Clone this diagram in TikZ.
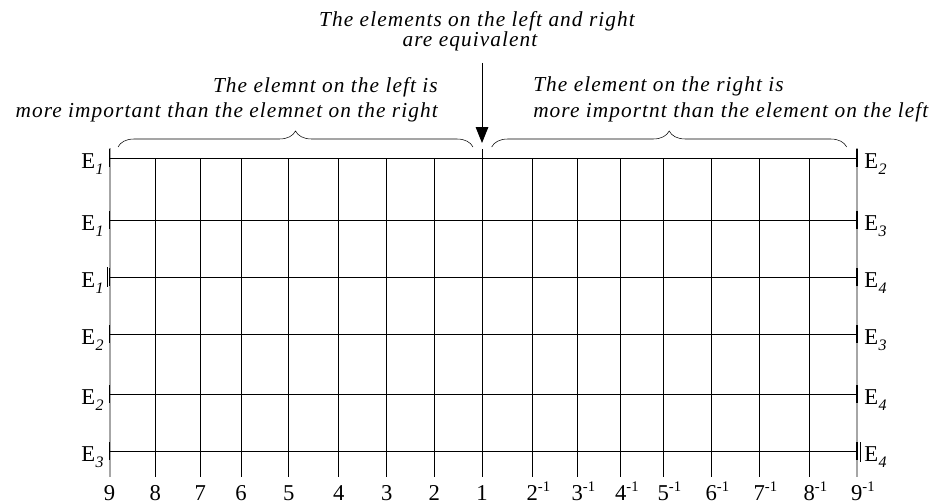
\documentclass[tikz,border=0pt]{standalone}
\usepackage{fontspec}
\setmainfont{Liberation Serif}
\newfontfamily\notefont[LetterSpace=5]{Liberation Serif}
\usetikzlibrary{arrows.meta,calc,decorations.pathreplacing}

\newcommand{\subidx}[1]{\kern0.4pt\raisebox{-5pt}{\fontsize{12}{12}\selectfont\itshape #1}}
\newcommand{\invnum}[1]{#1\rlap{\raisebox{6.5pt}{\fontsize{11}{11}\selectfont -1}}}

\begin{document}
\begin{tikzpicture}[x=0.75pt, y=-0.75pt, >=Stealth,
  every node/.style={inner sep=0pt},
  note/.style={font=\notefont\fontsize{16}{16}\selectfont\itshape},
  elab/.style={font=\fontsize{17}{17}\selectfont},
  grid/.style={line width=0.7pt},
  border/.style={line width=1.5pt, gray!70}]
\useasboundingbox (0,0) rectangle (934,503);

% frame of the scale
\draw[border] (109.5,148) -- (109.5,477);
\draw[border] (856.7,148) -- (856.7,477);
\foreach \y in {158.3,220,277,334.3,394,451.3} {
  \draw[grid] (109.5,\y) -- (856.7,\y);
  \draw[line width=1.2pt] (109.5,\y-9) -- (109.5,\y+9);
  \draw[line width=1.2pt] (856.7,\y-9) -- (856.7,\y+9);
}
\foreach \x in {155.3,200.3,241,288.7,338.7,386.7,434.3,532.3,577.3,620.7,663.3,711.3,759.3,809.3}
  \draw[grid] (\x,158.3) -- (\x,477);
\draw[grid] (482,149) -- (482,477);
\draw[grid] (107.7,267) -- (107.7,287);
\draw[grid] (860,442) -- (860,462);

% element labels
\foreach \y/\s [count=\i] in {158.3/1,220/1,277/1,334.3/2,394/2,451.3/3}
  \node[elab, anchor=base east] (left\i) at (104,\y+10) {E\subidx{\s}};
\foreach \y/\s [count=\i] in {158.3/2,220/3,277/4,334.3/3,394/4,451.3/4}
  \node[elab, anchor=base west] (right\i) at (864,\y+10) {E\subidx{\s}};

% scale values
\foreach \x/\n [count=\i] in {109.5/9,155.3/8,200.3/7,241/6,288.7/5,338.7/4,386.7/3,434.3/2,482/1}
  \node[elab, anchor=base] (num\i) at (\x,500) {\n};
\foreach \x/\n [count=\i] in {532.3/2,577.3/3,620.7/4,663.3/5,711.3/6,759.3/7,809.3/8,856.7/9}
  \node[elab, anchor=base] (inv\i) at (\x,500) {\invnum{\n}};

% braces and notes
\draw[decorate, decoration={brace, amplitude=12pt}] (118,147) -- (473,147);
\draw[decorate, decoration={brace, amplitude=12pt}] (491.7,147) -- (846.7,147);
\node[note, anchor=base east] (leftA) at (438,92) {The elemnt on the left is};
\node[note, anchor=base east] (leftB) at (438,117) {more important than the elemnet on the right};
\node[note, anchor=base west] (rightA) at (533,91) {The element on the right is};
\node[note, anchor=base west] (rightB) at (533,117) {more importnt than the element on the left};
\node[note, anchor=base] (eqA) at (477,27) {The elements on the left and right};
\node[note, anchor=base] (eqB) at (470,47) {are equivalent};

% arrow to the point of equality
\coordinate (arrtop) at (482,63);
\coordinate (arrtip) at (482,143);
\draw[line width=0.7pt, -{Triangle[width=9.5pt,length=12pt]}] (arrtop) -- (arrtip);
\end{tikzpicture}
\end{document}
